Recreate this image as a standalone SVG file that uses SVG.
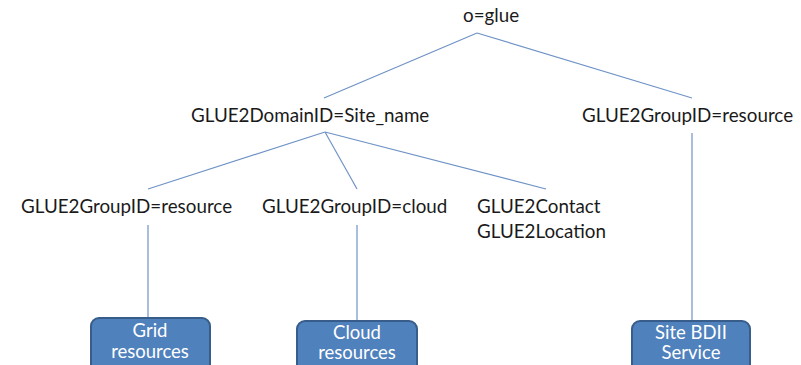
<svg xmlns="http://www.w3.org/2000/svg" width="801" height="365" viewBox="0 0 801 365">
<style>
.t{font-family:Lato,"Liberation Sans",sans-serif;font-size:18.8px;fill:#1a1a1a}
.bt{font-family:Lato,"Liberation Sans",sans-serif;font-size:18.5px;fill:#ffffff;text-anchor:middle}
.b{fill:#4f81bd;stroke:#385d8a;stroke-width:2}
.c line{stroke:#6f93c6;stroke-width:1.2}
</style>
<rect width="801" height="365" fill="#ffffff"/>
<g class="c" id="connectors">
<line x1="477" y1="33" x2="324" y2="98"/>
<line x1="477" y1="33" x2="692" y2="98"/>
<line x1="325" y1="132" x2="148" y2="189"/>
<line x1="325" y1="132" x2="357" y2="189"/>
<line x1="325" y1="132" x2="546" y2="189"/>
<line x1="692" y1="133" x2="692" y2="321"/>
<line x1="148" y1="225" x2="148" y2="318"/>
<line x1="357" y1="225" x2="357" y2="321"/>
</g>
<g id="root"><text class="t" x="463" y="22">o=glue</text></g>
<g id="domain"><text class="t" x="191" y="122">GLUE2DomainID=Site_name</text></g>
<g id="group-resource-right"><text class="t" x="582" y="122">GLUE2GroupID=resource</text></g>
<g id="group-resource-left"><text class="t" x="21" y="213">GLUE2GroupID=resource</text></g>
<g id="group-cloud"><text class="t" x="262" y="213">GLUE2GroupID=cloud</text></g>
<g id="contact"><text class="t" x="477" y="213">GLUE2Contact</text><text class="t" x="477" y="238">GLUE2Location</text></g>
<g id="grid"><rect class="b" x="91" y="318" width="119" height="56" rx="8"/><text class="bt" x="150" y="337">Grid</text><text class="bt" x="150" y="358">resources</text></g>
<g id="cloud"><rect class="b" x="297" y="321" width="120" height="56" rx="8"/><text class="bt" x="357" y="339">Cloud</text><text class="bt" x="357" y="359">resources</text></g>
<g id="sitebdii"><rect class="b" x="632" y="321" width="118" height="56" rx="8"/><text class="bt" x="691" y="339">Site BDII</text><text class="bt" x="691" y="359">Service</text></g>
</svg>
